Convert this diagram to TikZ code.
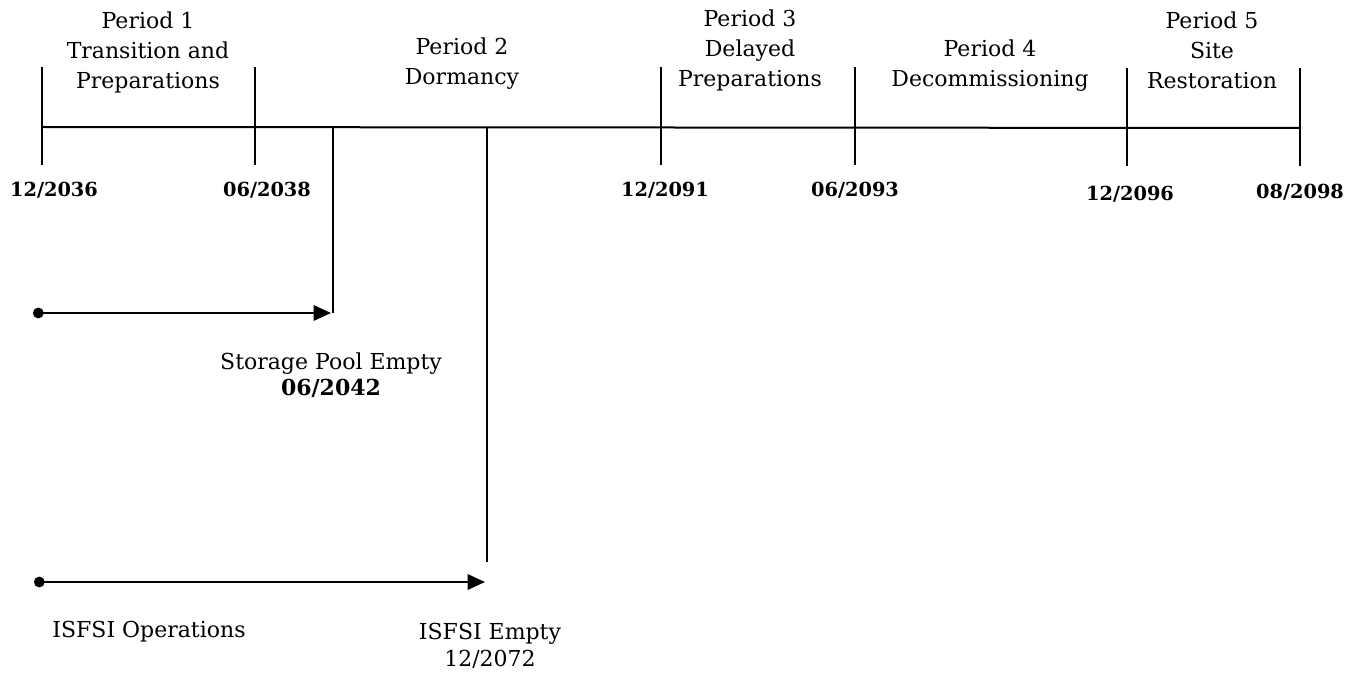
\documentclass[tikz,border=0pt]{standalone}
\usepackage{fontspec}
\setmainfont{DejaVu Serif}
\usetikzlibrary{arrows.meta,positioning}

\begin{document}
\begin{tikzpicture}[
    x=0.75pt, y=-0.75pt,
    periodlabel/.style={align=center, font=\fontsize{16.5}{22.5}\selectfont},
    datelabel/.style={font=\bfseries\fontsize{14.5}{17}\selectfont},
    eventlabel/.style={align=center, font=\fontsize{16.5}{20}\selectfont},
    timeline/.style={line width=1.5pt},
    eventarrow/.style={line width=1.5pt, {Circle[length=8pt]}-{Triangle[length=13pt,width=11.5pt]}},
    ]
    \useasboundingbox (0,0) rectangle (1364,677);

    %Ticks on the time line
    \coordinate (start)  at (42,127);
    \coordinate (finish) at (1300,128);
    \coordinate (tick1top) at (42,67);    \coordinate (tick1bot) at (42,165);
    \coordinate (tick2top) at (255,67);   \coordinate (tick2bot) at (255,165);
    \coordinate (tick3top) at (661,67);   \coordinate (tick3bot) at (661,165);
    \coordinate (tick4top) at (855,67);   \coordinate (tick4bot) at (855,165);
    \coordinate (tick5top) at (1127,68);  \coordinate (tick5bot) at (1127,166);
    \coordinate (tick6top) at (1300,68);  \coordinate (tick6bot) at (1300,166);
    \coordinate (pooltop)  at (333,127);  \coordinate (poolbot)  at (333,313);
    \coordinate (isfsitop) at (487,127);  \coordinate (isfsibot) at (487,562);
    \coordinate (pooldot)  at (33,313);   \coordinate (poolend)  at (331,313);
    \coordinate (isfsidot) at (34,582);   \coordinate (isfsiend) at (485,582);

    %Nodes
    \node[periodlabel] (period1) at (148,52)  {Period 1\\Transition and\\Preparations};
    \node[periodlabel] (period2) at (462,64)  {Period 2\\Dormancy};
    \node[periodlabel] (period3) at (750,50)  {Period 3\\Delayed\\Preparations};
    \node[periodlabel] (period4) at (990,66)  {Period 4\\Decommissioning};
    \node[periodlabel] (period5) at (1212,50) {Period 5\\Site\\Restoration};

    \node[datelabel] (date1) at (54,190)   {12/2036};
    \node[datelabel] (date2) at (267,190)  {06/2038};
    \node[datelabel] (date3) at (665,190)  {12/2091};
    \node[datelabel] (date4) at (855,190)  {06/2093};
    \node[datelabel] (date5) at (1130,194) {12/2096};
    \node[datelabel] (date6) at (1300,192) {08/2098};

    \node[eventlabel] (poolempty)  at (331,375) {Storage Pool Empty\\\textbf{06/2042}};
    \node[eventlabel] (isfsiops)   at (149,632) {ISFSI Operations};
    \node[eventlabel] (isfsiempty) at (490,646) {ISFSI Empty\\12/2072};

    %Lines
    \draw[timeline] (start) -- (finish);
    \draw[timeline] (tick1top) -- (tick1bot);
    \draw[timeline] (tick2top) -- (tick2bot);
    \draw[timeline] (tick3top) -- (tick3bot);
    \draw[timeline] (tick4top) -- (tick4bot);
    \draw[timeline] (tick5top) -- (tick5bot);
    \draw[timeline] (tick6top) -- (tick6bot);
    \draw[timeline] (pooltop)  -- (poolbot);
    \draw[timeline] (isfsitop) -- (isfsibot);
    \draw[eventarrow] (pooldot)  -- (poolend);
    \draw[eventarrow] (isfsidot) -- (isfsiend);
\end{tikzpicture}
\end{document}
